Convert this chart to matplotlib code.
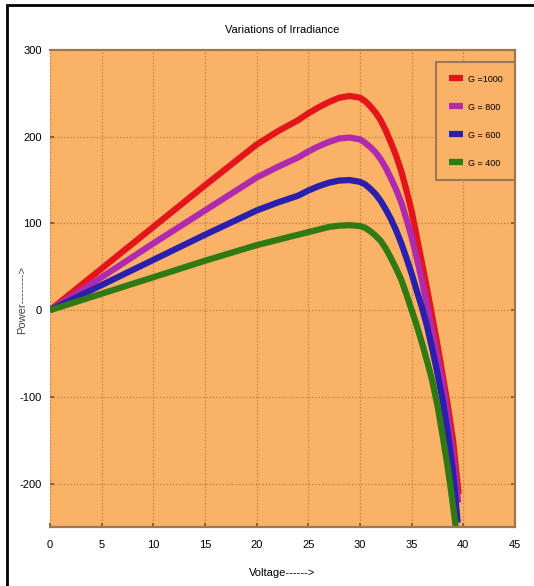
import matplotlib
matplotlib.use("Agg")
import matplotlib.pyplot as plt
from matplotlib.patches import Rectangle

plt.rcParams['font.family'] = ['Liberation Sans Narrow', 'Liberation Sans', 'DejaVu Sans']
plt.rcParams['axes.unicode_minus'] = False

# values
labels = ["G =1000", "G = 800", "G = 600", "G = 400"]
colors = ["#E5141A", "#B02AAE", "#2A1FAE", "#2F7A12"]

v_1000 = [0, 5, 10, 15, 20, 22, 24, 25, 26, 27, 28, 29, 30, 30.5, 31, 31.5, 32, 32.5, 33, 33.5,
          34, 34.5, 35, 35.5, 36, 36.5, 37, 37.5, 38, 38.5, 39, 39.55]
p_1000 = [0, 48, 96, 144, 191, 206, 219, 227, 234, 240, 245, 247, 245, 241, 235, 228, 219, 207,
          193, 178, 160, 138, 114, 84, 54, 24, -8, -40, -75, -110, -150, -212]

v_800 = [0, 5, 10, 15, 20, 22, 24, 25, 26, 27, 28, 29, 30, 30.5, 31, 31.5, 32, 32.5, 33, 33.5,
         34, 34.5, 35, 35.5, 36, 36.5, 37, 37.5, 38, 38.5, 39, 39.5]
p_800 = [0, 38, 77, 115, 153, 165, 176, 183, 189, 194, 198, 199, 197, 193, 188, 182, 174, 164,
         152, 139, 124, 105, 84, 60, 34, 5, -25, -55, -85, -124, -168, -222]

v_600 = [0, 5, 10, 15, 20, 22, 24, 25, 26, 27, 28, 29, 30, 30.5, 31, 31.5, 32, 32.5, 33, 33.5,
         34, 34.5, 35, 35.5, 36, 36.5, 37, 37.5, 38, 38.5, 39, 39.45]
p_600 = [0, 29, 58, 87, 115, 124, 132, 138, 143, 147, 149.5, 150, 148, 145, 140, 134, 126, 116,
         105, 92, 77, 60, 42, 22, 3, -19, -45, -73, -104, -142, -185, -245]

v_400 = [0, 5, 10, 15, 20, 22, 24, 25, 26, 27, 28, 29, 30, 30.5, 31, 31.5, 32, 32.5, 33, 33.5,
         34, 34.5, 35, 35.5, 36, 36.5, 37, 37.5, 38, 38.5, 39, 39.4]
p_400 = [0, 19, 38, 57, 75, 81, 87, 90, 93, 96, 97.5, 98, 97, 95, 91, 86, 80, 71,
         60, 48, 35, 18, 0, -18, -38, -59, -82, -110, -145, -182, -225, -262]

x_ticks = [0, 5, 10, 15, 20, 25, 30, 35, 40, 45]
y_ticks = [-200, -100, 0, 100, 200, 300]

series = [(v_1000, p_1000), (v_800, p_800), (v_600, p_600), (v_400, p_400)]

fig = plt.figure(figsize=(5.34, 5.86), dpi=100)
ax = fig.add_axes([50 / 534, 59 / 586, 465 / 534, 477 / 586])
ax.set_facecolor("#FAB266")

for (v, p), c, lab in zip(series, colors, labels):
    ax.plot(v, p, color=c, lw=4.5, label=lab, solid_joinstyle="round",
            solid_capstyle="butt")

ax.set_xlim(0, 45)
ax.set_ylim(-250, 300)
ax.set_xticks(x_ticks)
ax.set_yticks(y_ticks)
ax.grid(True, ls=":", lw=0.9, color="#C07A3A")
ax.tick_params(direction="in", length=3, width=1.2, color="#7A5530",
               labelsize=8, pad=9, top=False, right=True)
ax.tick_params(axis="y", pad=6)
for s in ["top", "bottom", "right"]:
    ax.spines[s].set_color("#9A7858")
    ax.spines[s].set_linewidth(1.6)
ax.spines["left"].set_visible(False)

ax.set_title("Variations of Irradiance", fontsize=8, pad=12)
ax.set_xlabel("Voltage------>", fontsize=8, labelpad=13)
ax.set_ylabel("Power-------->", fontsize=8, color="#444444")
ax.yaxis.set_label_coords(-0.05, 0.476)

leg = ax.legend(loc="upper right", bbox_to_anchor=(1.0, 1 - 12 / 477),
                fontsize=6.5, labelspacing=2.1, handlelength=1.6,
                handletextpad=0.5, borderpad=1.4, borderaxespad=0.0,
                fancybox=False, facecolor="#FAB266", framealpha=1.0)
leg.get_frame().set_edgecolor("#9A7858")
leg.get_frame().set_linewidth(1.5)

# black frame on the left and top edges of the picture
fig.add_artist(Rectangle((7 / 534, -0.05), 1.2, 1.05 - 5 / 586,
                         transform=fig.transFigure, fill=False,
                         edgecolor="black", lw=2))

fig.savefig("out.png", dpi=100, facecolor="white")
